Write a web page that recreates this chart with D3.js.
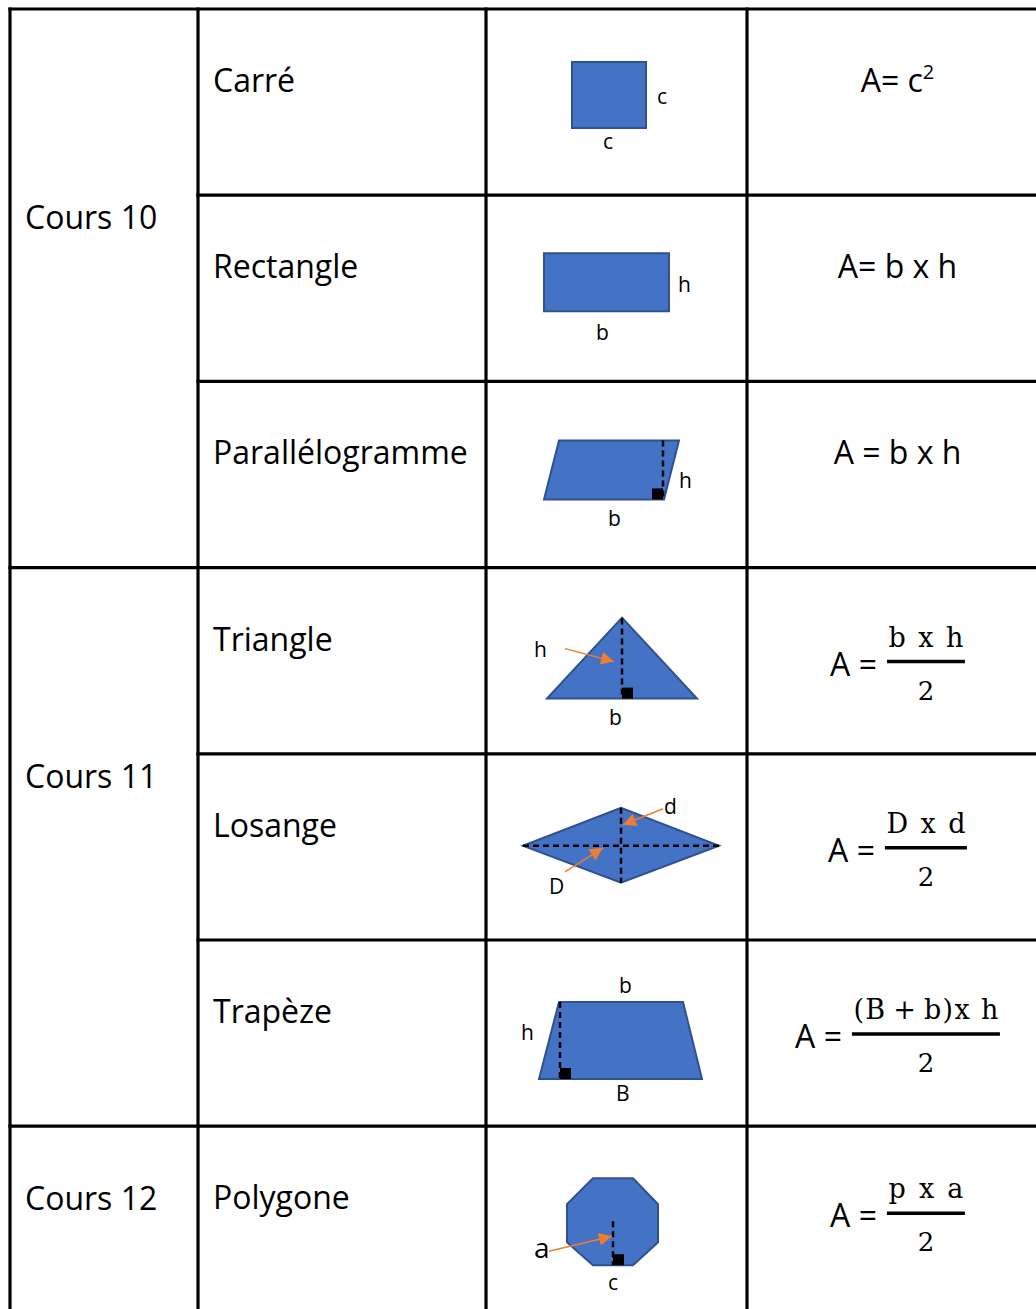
<!DOCTYPE html>
<html><head><meta charset="utf-8">
<script src="https://cdn.jsdelivr.net/npm/d3@7"></script>
<style>body{margin:0;background:#fff}svg{display:block}</style>
</head><body>
<script>
// ---- content ----
const courses = ["Cours 10", "Cours 11", "Cours 12"];
const courseSpans = [3, 3, 1];
const shapeNames = ["Carré", "Rectangle", "Parallélogramme", "Triangle", "Losange", "Trapèze", "Polygone"];
const shapeKinds = ["square", "rectangle", "parallelogram", "triangle", "rhombus", "trapezoid", "octagon"];
const formulaLeft = ["A= c", "A= b x h", "A = b x h", "A =", "A =", "A =", "A ="];
const formulaSup = ["2", "", "", "", "", "", ""];
const numerators = [null, null, null, "b x h", "D x d", "(B\u2009+\u2009b)x h", "p x a"];
const denominators = [null, null, null, "2", "2", "2", "2"];

// ---- layout / style ----
const W = 1036, H = 1309;
const colEdges = [10, 198, 486, 747, 1048];
const rowH = 186.2;
const nRows = shapeNames.length;
const y = d3.scaleLinear().domain([0, nRows]).range([9, 9 + rowH * nRows]);
const FONT = "'Open Sans', Lato, sans-serif";
const SERIF = "'DejaVu Serif', serif";
const BLUE = "#4472C4", BLUE_DARK = "#2F528F", ORANGE = "#ED7D31";
const numWidths = [null, null, null, 75, 79, 145, 75];
const formulaDy = [0, 0, 0, 0, 0, 0, -7];

// shape geometry in local cell units (cell = 261 x 186.2)
const geometry = {
  square: { poly: [[86,53],[160,53],[160,119],[86,119]], labels: [{t:"c",x:171,y:95},{t:"c",x:117,y:140}] },
  rectangle: { poly: [[58,58],[183,58],[183,116],[58,116]], labels: [{t:"h",x:192,y:97},{t:"b",x:110,y:145}] },
  parallelogram: { poly: [[73,59],[193,59],[178,118],[58,118]], dashes: [[[177,59],[177,118]]], sq: [166,107],
    labels: [{t:"h",x:193,y:107},{t:"b",x:122,y:145}] },
  triangle: { poly: [[136,50],[211,131],[61,131]], dashes: [[[136,51],[136,131]]], sq: [136,120],
    arrows: [[[79,81],[128,94]]], labels: [{t:"h",x:48,y:89},{t:"b",x:123,y:157}] },
  rhombus: { poly: [[37,92],[135,54],[233,92],[135,129]], dashes: [[[37,92],[233,92]],[[135,54],[135,129]]],
    arrows: [[[177,55],[137,71]],[[79,118],[117,94]]], labels: [{t:"d",x:178,y:60},{t:"D",x:63,y:140}] },
  trapezoid: { poly: [[73,62],[197,62],[216,139],[53,139]], dashes: [[[74,62],[74,139]]], sq: [74,128],
    labels: [{t:"b",x:133,y:53},{t:"h",x:35,y:100},{t:"B",x:130,y:161}] },
  octagon: { poly: [[107,52],[147,52],[172,78],[172,116],[147,139],[107,139],[81,116],[81,78]],
    dashes: [[[127,95],[127,139]]], sq: [127,128], arrows: [[[63,125],[126,110]]],
    labels: [{t:"a",x:48,y:132,big:true},{t:"c",x:122,y:164}] }
};

const svg = d3.select("body").append("svg").attr("width", W).attr("height", H);
svg.append("rect").attr("width", W).attr("height", H).attr("fill", "#fff");

const defs = svg.append("defs");
defs.append("marker").attr("id", "arr").attr("viewBox", "0 0 10 10")
  .attr("refX", 10).attr("refY", 5).attr("markerUnits", "userSpaceOnUse")
  .attr("markerWidth", 15).attr("markerHeight", 13).attr("orient", "auto")
  .append("path").attr("d", "M0,0 L10,5 L0,10 Z").attr("fill", ORANGE);

// ---- text columns ----
let start = 0;
courses.forEach((c, k) => {
  const off = courseSpans[k] > 1 ? 220 : 84;
  svg.append("text").attr("x", colEdges[0] + 15).attr("y", y(start) + off)
    .attr("font-family", FONT).attr("font-size", 32).attr("fill", "#000").text(c);
  start += courseSpans[k];
});
shapeNames.forEach((s, i) => {
  svg.append("text").attr("x", colEdges[1] + 15).attr("y", y(i) + 83)
    .attr("font-family", FONT).attr("font-size", 32).attr("fill", "#000").text(s);
});

// ---- shapes ----
shapeKinds.forEach((kind, i) => {
  const g = geometry[kind];
  const sx = d3.scaleLinear().domain([0, 261]).range([colEdges[2], colEdges[2] + 261]);
  const sy = d3.scaleLinear().domain([0, rowH]).range([y(i), y(i) + rowH]);
  const line = d3.line().x(p => sx(p[0])).y(p => sy(p[1]));
  const cell = svg.append("g");
  cell.append("path").attr("d", line(g.poly) + "Z").attr("fill", BLUE)
    .attr("stroke", BLUE_DARK).attr("stroke-width", 2).attr("stroke-linejoin", "miter");
  (g.dashes || []).forEach(d => {
    cell.append("path").attr("d", line(d)).attr("stroke", "#000").attr("stroke-width", 2.5)
      .attr("stroke-dasharray", "6,4").attr("fill", "none");
  });
  if (g.sq) {
    cell.append("rect").attr("x", sx(g.sq[0])).attr("y", sy(g.sq[1]))
      .attr("width", sx(g.sq[0] + 11) - sx(g.sq[0])).attr("height", sy(g.sq[1] + 11) - sy(g.sq[1]))
      .attr("fill", "#000");
  }
  (g.arrows || []).forEach(a => {
    cell.append("path").attr("d", line(a)).attr("stroke", ORANGE).attr("stroke-width", 1.5)
      .attr("fill", "none").attr("marker-end", "url(#arr)");
  });
  g.labels.forEach(l => {
    cell.append("text").attr("x", sx(l.x)).attr("y", sy(l.y))
      .attr("font-family", FONT).attr("font-size", l.big ? 28 : 21).attr("fill", "#000").text(l.t);
  });
});

// ---- formulas ----
const cx = (colEdges[3] + colEdges[4]) / 2;
formulaLeft.forEach((f, i) => {
  const top = y(i) + formulaDy[i];
  if (!numerators[i]) {
    const t = svg.append("text").attr("x", cx).attr("y", top + 83).attr("text-anchor", "middle")
      .attr("font-family", FONT).attr("font-size", 32).attr("fill", "#000");
    t.append("tspan").text(f);
    if (formulaSup[i]) t.append("tspan").attr("font-size", 20).attr("dy", -13).text(formulaSup[i]);
  } else {
    const g = svg.append("g");
    const a = g.append("text").attr("y", top + 108).attr("font-family", FONT)
      .attr("font-size", 32).attr("fill", "#000").text(f);
    const aw = a.node().getComputedTextLength();
    const nw = numWidths[i];
    const fracW = nw + 3, gap = 10;
    const left = cx - (aw + gap + fracW) / 2;
    a.attr("x", left);
    const fx = left + aw + gap;
    g.append("line").attr("x1", fx).attr("x2", fx + fracW).attr("y1", top + 94).attr("y2", top + 94)
      .attr("stroke", "#000").attr("stroke-width", 3.5);
    g.append("text").attr("x", fx + fracW / 2).attr("y", top + 79).attr("text-anchor", "middle")
      .attr("font-family", SERIF).attr("font-size", 27).attr("fill", "#000")
      .attr("textLength", nw).attr("lengthAdjust", "spacing").text(numerators[i]);
    g.append("text").attr("x", fx + fracW / 2).attr("y", top + 132).attr("text-anchor", "middle")
      .attr("font-family", SERIF).attr("font-size", 26).attr("fill", "#000").text(denominators[i]);
  }
});

// ---- grid lines ----
const grid = svg.append("g").attr("stroke", "#000").attr("stroke-width", 3.2).attr("stroke-linecap", "square");
colEdges.forEach(x => {
  grid.append("line").attr("x1", x).attr("x2", x).attr("y1", y(0)).attr("y2", H + 10);
});
const courseBounds = new Set(d3.cumsum(courseSpans));
for (let i = 0; i <= nRows; i++) {
  const full = i === 0 || courseBounds.has(i);
  grid.append("line").attr("x1", full ? colEdges[0] : colEdges[1]).attr("x2", colEdges[4])
    .attr("y1", y(i)).attr("y2", y(i));
}
</script>
</body></html>
